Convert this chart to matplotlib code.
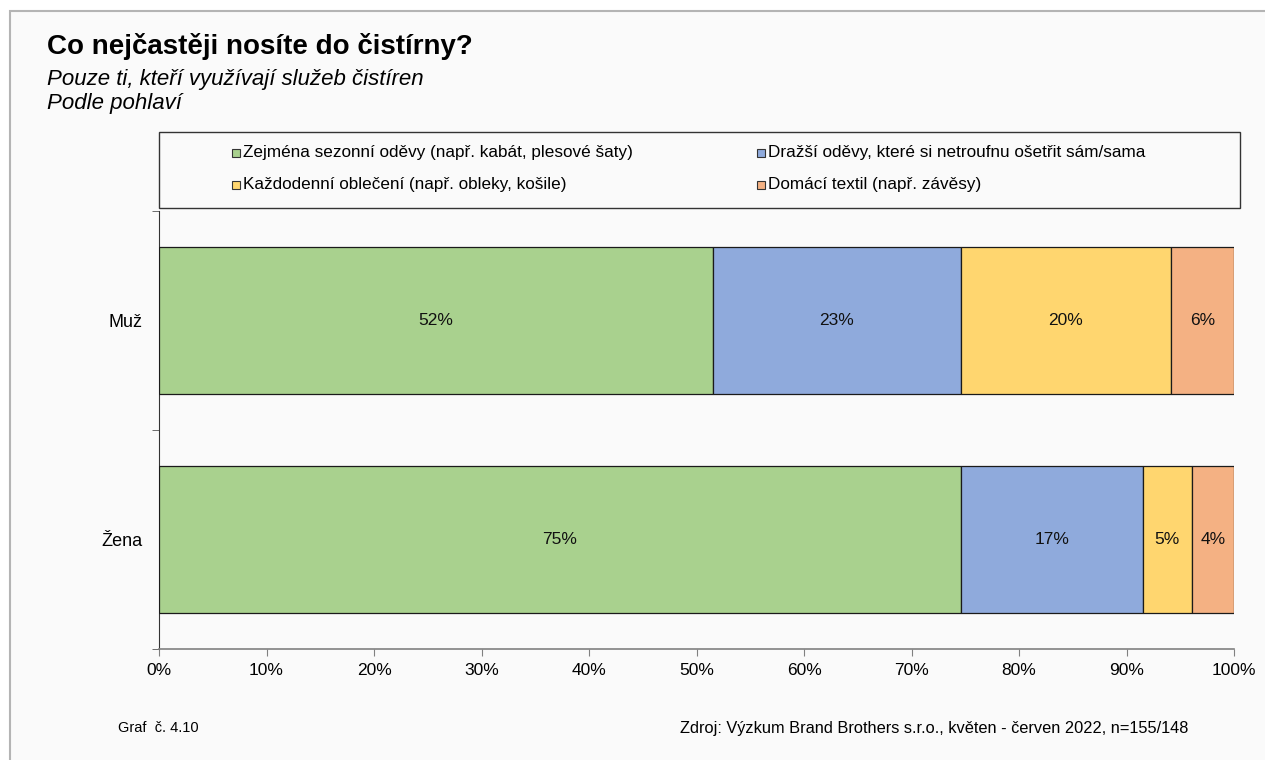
import matplotlib
matplotlib.use("Agg")
import matplotlib.pyplot as plt
from matplotlib.patches import Rectangle

plt.rcParams['font.family'] = ['Liberation Sans', 'DejaVu Sans']

# data
groups = ["Žena", "Muž"]
series = [
    "Zejména sezonní oděvy (např. kabát, plesové šaty)",
    "Dražší oděvy, které si netroufnu ošetřit sám/sama",
    "Každodenní oblečení (např. obleky, košile)",
    "Domácí textil (např. závěsy)",
]
sezonni = [74.6, 51.5]
drazsi = [16.9, 23.1]
kazdodenni = [4.6, 19.5]
textil = [3.9, 5.9]
values = [sezonni, drazsi, kazdodenni, textil]
colors = ["#A9D18E", "#8FAADC", "#FFD66F", "#F4B183"]
x_ticks = [0, 10, 20, 30, 40, 50, 60, 70, 80, 90, 100]

W, H = 1265, 760
fig = plt.figure(figsize=(W / 100, H / 100), dpi=100, facecolor="white")

# light panel with a thin grey frame, behind everything
fig.patches.append(Rectangle((10 / W, -0.1), 1.2, 1 - 11 / H + 0.1,
                             transform=fig.transFigure, facecolor="#fafafa",
                             edgecolor="#b4b4b4", linewidth=1.5, zorder=-5))

fig.text(47 / W, 1 - 46 / H, "Co nejčastěji nosíte do čistírny?",
         fontsize=20, fontweight="bold", va="center", ha="left")
fig.text(47 / W, 1 - 79 / H, "Pouze ti, kteří využívají služeb čistíren",
         fontsize=16, style="italic", va="center", ha="left")
fig.text(47 / W, 1 - 104 / H, "Podle pohlaví",
         fontsize=16, style="italic", va="center", ha="left")

ax = fig.add_axes([159 / W, 111 / H, 1075 / W, 438 / H])
ax.set_facecolor("none")

left = [0] * len(groups)
for vals, col in zip(values, colors):
    bars = ax.barh(range(len(groups)), vals, left=left, height=0.667,
                   color=col, edgecolor="#1a1a1a", linewidth=0.9, zorder=3)
    ax.bar_label(bars, labels=[f"{v:.0f}%" for v in vals],
                 label_type="center", fontsize=12.5, color="#111111")
    left = [a + b for a, b in zip(left, vals)]

ax.set_xlim(0, 100)
ax.set_ylim(-0.5, 1.5)
ax.set_xticks(x_ticks)
ax.set_xticklabels([f"{t}%" for t in x_ticks], fontsize=12.5)
ax.set_yticks(range(len(groups)))
ax.set_yticklabels(groups, fontsize=13)
ax.set_yticks([-0.5, 0.5, 1.5], minor=True)
ax.tick_params(axis="y", which="major", length=0, pad=12)
ax.tick_params(axis="y", which="minor", length=5, color="#555555")
ax.tick_params(axis="x", length=5, color="#808080", pad=5)
for s in ["top", "right"]:
    ax.spines[s].set_visible(False)
ax.spines["left"].set_color("#333333")
ax.spines["bottom"].set_color("#808080")
ax.spines["bottom"].set_linewidth(1.2)

# legend box above the plot, two entries per row
fig.patches.append(Rectangle((159 / W, 1 - 208 / H), 1081 / W, 76 / H,
                             transform=fig.transFigure, facecolor="none",
                             edgecolor="#333333", linewidth=1.0, zorder=2))
col_x = [232, 757]
row_y = [153, 185]
for i, (name, col) in enumerate(zip(series, colors)):
    cx = col_x[i % 2]
    cy = row_y[i // 2]
    fig.patches.append(Rectangle((cx / W, 1 - (cy + 4) / H), 8 / W, 8 / H,
                                 transform=fig.transFigure, facecolor=col,
                                 edgecolor="#333333", linewidth=0.8, zorder=3))
    fig.text((cx + 11) / W, 1 - cy / H, name, fontsize=12.3,
             va="center", ha="left")

fig.text(118 / W, 1 - 728 / H, "Graf  č. 4.10", fontsize=10.5,
         va="center", ha="left")
fig.text(1188 / W, 1 - 728 / H,
         "Zdroj: Výzkum Brand Brothers s.r.o., květen - červen 2022, n=155/148",
         fontsize=11.8, va="center", ha="right")

fig.savefig("out.png", dpi=100, facecolor="white")
